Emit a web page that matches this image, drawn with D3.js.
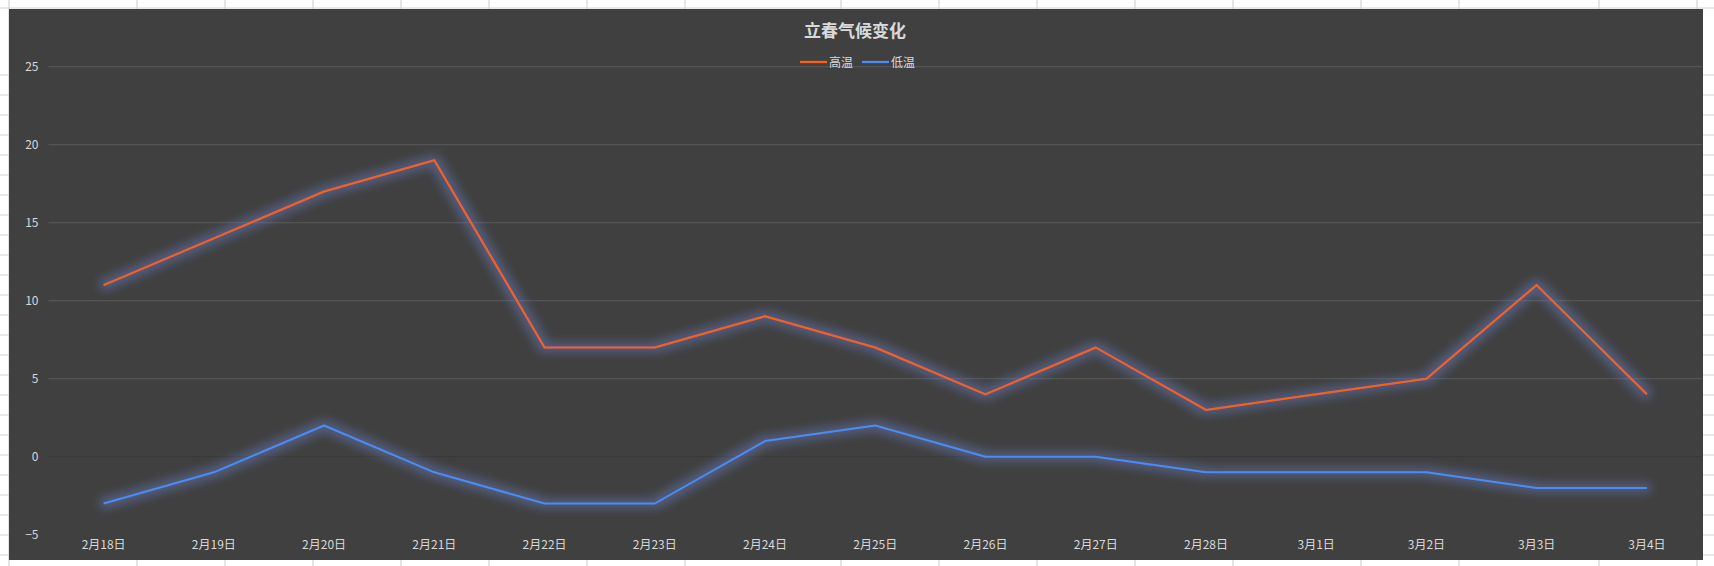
<!DOCTYPE html>
<html>
<head>
<meta charset="utf-8">
<script src="https://cdn.jsdelivr.net/npm/d3@7"></script>
<style>
  body { margin: 0; background: #fff; }
  #chart { width: 1714px; height: 566px; }
  text { font-family: "Noto Sans CJK SC", "Noto Sans", sans-serif; }
</style>
</head>
<body>
<div id="chart"></div>
<script>
// chart data
const dates = ["2月18日","2月19日","2月20日","2月21日","2月22日","2月23日","2月24日","2月25日",
               "2月26日","2月27日","2月28日","3月1日","3月2日","3月3日","3月4日"];
const highTemp = [11, 14, 17, 19, 7, 7, 9, 7, 4, 7, 3, 4, 5, 11, 4];
const lowTemp = [-3, -1, 2, -1, -3, -3, 1, 2, 0, 0, -1, -1, -1, -2, -2];
const yTicks = [-5, 0, 5, 10, 15, 20, 25];

// spreadsheet grid behind the chart
const sheetCols = [9, 137, 225, 313, 401, 489, 587, 685, 841, 939, 1037, 1135, 1233, 1361, 1459, 1599, 1697];

const width = 1714, height = 566;
const box = {left: 9, top: 9, right: 1703, bottom: 560};
const margin = {top: 66.7, left: 48.5, right: 1702, bottom: 534.7};

const svg = d3.select("#chart")
    .append("svg")
    .attr("width", width)
    .attr("height", height);

// sheet lines
const sheet = svg.append("g").attr("stroke", "#d4d4d4").attr("stroke-width", 1.2);
sheet.selectAll(".col")
    .data(sheetCols)
    .enter()
    .append("line")
        .attr("x1", d => d).attr("x2", d => d)
        .attr("y1", 0).attr("y2", height);
sheet.selectAll(".row")
    .data(d3.range(75, 566, 20))
    .enter()
    .append("line")
        .attr("x1", 0).attr("x2", width)
        .attr("y1", d => d).attr("y2", d => d);
sheet.append("line")
    .attr("x1", 0).attr("x2", width)
    .attr("y1", 8).attr("y2", 8);

// chart area
svg.append("rect")
    .attr("x", box.left)
    .attr("y", box.top)
    .attr("width", box.right - box.left)
    .attr("height", box.bottom - box.top)
    .attr("fill", "#404040");

// soft glow around the lines
const defs = svg.append("defs");
const glow = defs.append("filter")
    .attr("id", "glow")
    .attr("x", "-10%").attr("y", "-50%")
    .attr("width", "120%").attr("height", "200%");
glow.append("feMorphology").attr("in", "SourceAlpha").attr("operator", "dilate").attr("radius", 3.5).attr("result", "thick");
glow.append("feGaussianBlur").attr("in", "thick").attr("stdDeviation", 5).attr("result", "blur");
glow.append("feFlood").attr("flood-color", "#6a80c8").attr("flood-opacity", 0.45);
glow.append("feComposite").attr("in2", "blur").attr("operator", "in").attr("result", "glowCol");
const merge = glow.append("feMerge");
merge.append("feMergeNode").attr("in", "glowCol");
merge.append("feMergeNode").attr("in", "SourceGraphic");

// scales
const xScale = d3.scaleBand()
    .domain(dates)
    .range([margin.left, margin.right]);

const yScale = d3.scaleLinear()
    .domain([-5, 25])
    .range([margin.bottom, margin.top]);

// gridlines
svg.append("g")
    .selectAll("line")
    .data(yTicks.filter(d => d !== -5))
    .enter()
    .append("line")
        .attr("x1", margin.left)
        .attr("x2", margin.right)
        .attr("y1", d => yScale(d))
        .attr("y2", d => yScale(d))
        .attr("stroke", d => d === 0 ? "#383838" : "#595959")
        .attr("stroke-width", 1);

// y axis
const yAxis = svg.append("g")
    .attr("transform", `translate(${margin.left},0)`)
    .call(d3.axisLeft(yScale).tickValues(yTicks).tickSize(0).tickPadding(10));
yAxis.select(".domain").remove();
yAxis.selectAll("text")
    .attr("fill", "#d9d9d9")
    .style("font-size", "12px");

// x axis
const xAxis = svg.append("g")
    .attr("transform", `translate(0,${margin.bottom})`)
    .call(d3.axisBottom(xScale).tickSize(0).tickPadding(6));
xAxis.select(".domain").remove();
xAxis.selectAll("text")
    .attr("fill", "#d9d9d9")
    .style("font-size", "12px");

// lines
const line = d3.line()
    .x((d, i) => xScale(dates[i]) + xScale.bandwidth() / 2)
    .y(d => yScale(d));

const series = [
    {name: "高温", values: highTemp, color: "#ff5f0f"},
    {name: "低温", values: lowTemp, color: "#4a8cf8"}
];

svg.selectAll(".series")
    .data(series)
    .enter()
    .append("path")
        .attr("d", d => line(d.values))
        .attr("fill", "none")
        .attr("stroke", d => d.color)
        .attr("stroke-width", 2)
        .attr("stroke-linejoin", "round")
        .attr("filter", "url(#glow)");

// title
svg.append("text")
    .attr("x", 855)
    .attr("y", 37)
    .attr("text-anchor", "middle")
    .attr("fill", "#d9d9d9")
    .style("font-size", "17px")
    .style("font-weight", "bold")
    .text("立春气候变化");

// legend
const legendX = [800, 862];
const legend = svg.selectAll(".legend")
    .data(series)
    .enter()
    .append("g")
        .attr("transform", (d, i) => `translate(${legendX[i]},62)`);
legend.append("line")
    .attr("x1", 0).attr("x2", 27)
    .attr("stroke", d => d.color)
    .attr("stroke-width", 2.25);
legend.append("text")
    .attr("x", 29)
    .attr("y", 4.5)
    .attr("fill", "#d9d9d9")
    .style("font-size", "12px")
    .text(d => d.name);
</script>
</body>
</html>
